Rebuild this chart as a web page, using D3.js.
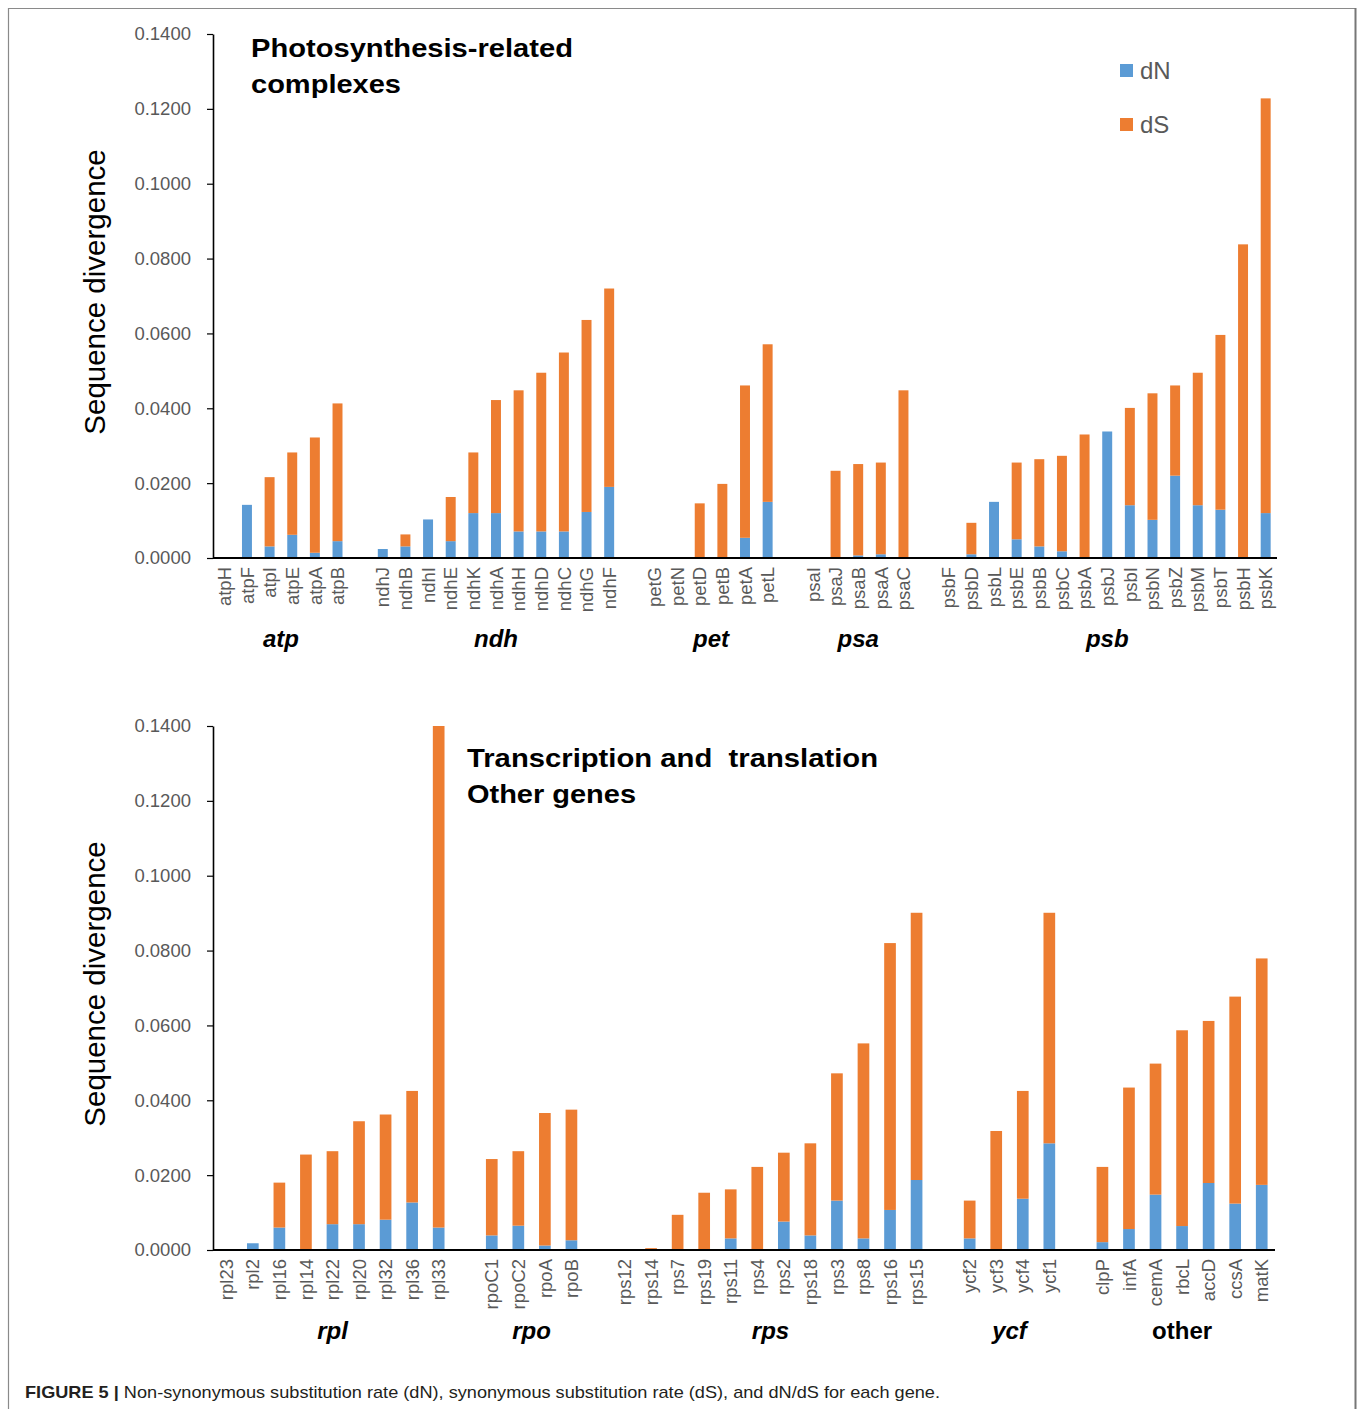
<!DOCTYPE html>
<html>
<head>
<meta charset="utf-8">
<script src="https://cdn.jsdelivr.net/npm/d3@7"></script>
<style>
  html, body { margin: 0; padding: 0; background: #fff; }
  svg { display: block; font-family: "Liberation Sans", Arial, sans-serif; }
</style>
</head>
<body>
<svg id="fig" width="1360" height="1409"></svg>
<script>
// ---- Photosynthesis-related complexes ----
const topGroupNames = ["atp", "ndh", "pet", "psa", "psb"];
const topGroupSizes = [6, 11, 6, 5, 15];
const topGenes = [
  "atpH", "atpF", "atpI", "atpE", "atpA", "atpB",
  "ndhJ", "ndhB", "ndhI", "ndhE", "ndhK", "ndhA", "ndhH", "ndhD", "ndhC", "ndhG", "ndhF",
  "petG", "petN", "petD", "petB", "petA", "petL",
  "psaI", "psaJ", "psaB", "psaA", "psaC",
  "psbF", "psbD", "psbL", "psbE", "psbB", "psbC", "psbA", "psbJ", "psbI", "psbN", "psbZ", "psbM", "psbT", "psbH", "psbK"
];
const topDN = [
  0, 0.0142, 0.0031, 0.0062, 0.0014, 0.0045,
  0.0024, 0.0031, 0.0103, 0.0045, 0.0120, 0.0120, 0.0071, 0.0071, 0.0071, 0.0123, 0.0190,
  0, 0, 0, 0, 0.0054, 0.0150,
  0, 0, 0.0007, 0.0010, 0,
  0, 0.0010, 0.0150, 0.0050, 0.0031, 0.0018, 0, 0.0338, 0.0141, 0.0102, 0.0220, 0.0141, 0.0129, 0, 0.0120
];
const topDS = [
  0, 0, 0.0185, 0.0220, 0.0308, 0.0368,
  0, 0.0032, 0, 0.0118, 0.0162, 0.0302, 0.0377, 0.0424, 0.0478, 0.0513, 0.0530,
  0, 0, 0.0146, 0.0198, 0.0407, 0.0421,
  0, 0.0233, 0.0244, 0.0245, 0.0448,
  0, 0.0084, 0, 0.0205, 0.0233, 0.0255, 0.0330, 0, 0.0260, 0.0338, 0.0241, 0.0354, 0.0467, 0.0838, 0.1108
];

// ---- Transcription and translation / other genes ----
const bottomGroupNames = ["rpl", "rpo", "rps", "ycf", "other"];
const bottomGroupSizes = [9, 4, 12, 4, 7];
const bottomGenes = [
  "rpl23", "rpl2", "rpl16", "rpl14", "rpl22", "rpl20", "rpl32", "rpl36", "rpl33",
  "rpoC1", "rpoC2", "rpoA", "rpoB",
  "rps12", "rps14", "rps7", "rps19", "rps11", "rps4", "rps2", "rps18", "rps3", "rps8", "rps16", "rps15",
  "ycf2", "ycf3", "ycf4", "ycf1",
  "clpP", "infA", "cemA", "rbcL", "accD", "ccsA", "matK"
];
const bottomDN = [
  0, 0.0018, 0.0060, 0, 0.0069, 0.0069, 0.0081, 0.0127, 0.0060,
  0.0039, 0.0065, 0.0012, 0.0026,
  0, 0, 0, 0, 0.0031, 0, 0.0076, 0.0039, 0.0132, 0.0031, 0.0107, 0.0187,
  0.0031, 0, 0.0137, 0.0285,
  0.0021, 0.0056, 0.0148, 0.0064, 0.0179, 0.0124, 0.0174
];
const bottomDS = [
  0, 0, 0.0120, 0.0255, 0.0195, 0.0275, 0.0281, 0.0298, 0.1340,
  0.0204, 0.0199, 0.0354, 0.0349,
  0, 0.0005, 0.0094, 0.0153, 0.0131, 0.0222, 0.0184, 0.0246, 0.0340, 0.0521, 0.0713, 0.0714,
  0.0101, 0.0318, 0.0288, 0.0616,
  0.0201, 0.0378, 0.0350, 0.0523, 0.0433, 0.0553, 0.0605
];

const yTicks = [0, 0.02, 0.04, 0.06, 0.08, 0.10, 0.12, 0.14];
const seriesKeys = ["dN", "dS"];
const seriesColors = ["#5B9BD5", "#ED7D31"];
const yTitle = "Sequence divergence";
const caption = "Non-synonymous substitution rate (dN), synonymous substitution rate (dS), and dN/dS for each gene.";

const svg = d3.select("#fig");
const color = d3.scaleOrdinal().domain(seriesKeys).range(seriesColors);

// figure frame (open at the bottom)
const frame = svg.append("g").attr("fill", "none");
frame.append("path").attr("d", "M8.5,1409 V8.5 H1355").attr("stroke", "#8a8a8a").attr("stroke-width", 1.2);
frame.append("line").attr("x1", 1355.5).attr("x2", 1355.5).attr("y1", 8).attr("y2", 1409)
  .attr("stroke", "#777").attr("stroke-width", 2);

function drawPanel(opt) {
  const { genes, dN, dS, groupNames, groupSizes, x0, x1, yTop, yBase } = opt;

  // category slots with one empty slot between gene groups
  const slots = [];
  const groupSlots = [];
  let gi = 0;
  groupSizes.forEach((n, g) => {
    const members = genes.slice(gi, gi + n);
    groupSlots.push(members);
    members.forEach(m => slots.push(m));
    if (g < groupSizes.length - 1) slots.push("__gap" + g);
    gi += n;
  });

  const x = d3.scaleBand().domain(slots).range([x0, x1]).paddingInner(0.56).paddingOuter(0.28);
  const y = d3.scaleLinear().domain([0, 0.14]).range([yBase, yTop]);

  const rows = genes.map((gname, i) => ({ gene: gname, dN: dN[i], dS: dS[i] }));
  const stacked = d3.stack().keys(seriesKeys)(rows);

  const g = svg.append("g");

  g.selectAll("g.series").data(stacked).join("g")
    .attr("class", "series")
    .attr("fill", d => color(d.key))
    .selectAll("rect").data(d => d.filter(p => p[1] - p[0] > 0)).join("rect")
    .attr("x", p => x(p.data.gene))
    .attr("width", x.bandwidth())
    .attr("y", p => y(p[1]))
    .attr("height", p => y(p[0]) - y(p[1]));

  // y axis
  const yAxis = g.append("g").attr("transform", `translate(${x0},0)`)
    .call(d3.axisLeft(y).tickValues(yTicks).tickFormat(d3.format(".4f")).tickSize(6).tickSizeOuter(0));
  yAxis.select(".domain").attr("stroke", "#000").attr("stroke-width", 1.6);
  yAxis.selectAll(".tick line").attr("stroke", "#000").attr("stroke-width", 1.2);
  yAxis.selectAll(".tick text")
    .attr("x", -22)
    .attr("fill", "#595959")
    .style("font-size", "18.5px")
    .style("font-family", "'Liberation Sans', Arial, sans-serif");

  // x axis: gene names, rotated
  const xAxis = g.append("g").attr("transform", `translate(0,${yBase})`)
    .call(d3.axisBottom(x).tickValues(genes).tickSize(0).tickSizeOuter(0));
  xAxis.select(".domain").remove();
  xAxis.selectAll(".tick text")
    .attr("transform", "rotate(-90)")
    .attr("x", -9)
    .attr("y", 0)
    .attr("dy", "0.36em")
    .attr("text-anchor", "end")
    .attr("fill", "#595959")
    .style("font-size", "18.5px")
    .style("font-family", "'Liberation Sans', Arial, sans-serif");

  g.append("line")
    .attr("x1", x0).attr("x2", x1).attr("y1", yBase).attr("y2", yBase)
    .attr("stroke", "#000").attr("stroke-width", 2);

  // group names under the gene labels
  groupSlots.forEach((members, k) => {
    const a = x(members[0]) - x.step() * x.paddingInner() / 2;
    const b = x(members[members.length - 1]) + x.bandwidth() + x.step() * x.paddingInner() / 2;
    const name = groupNames[k];
    g.append("text")
      .attr("x", (a + b) / 2)
      .attr("y", yBase + 89)
      .attr("text-anchor", "middle")
      .style("font-size", "24px")
      .style("font-weight", "bold")
      .style("font-style", name === "other" ? "normal" : "italic")
      .attr("fill", "#000")
      .text(name);
  });

  // y axis title
  g.append("text")
    .attr("transform", `translate(105,${(yTop + yBase) / 2 - 4}) rotate(-90)`)
    .attr("text-anchor", "middle")
    .style("font-size", "29.5px")
    .attr("fill", "#000")
    .text(yTitle);

  // panel heading
  const head = g.append("text")
    .style("font-size", "26px")
    .style("font-weight", "bold")
    .attr("fill", "#000")
    .attr("xml:space", "preserve")
    .style("white-space", "pre");
  opt.heading.forEach((line, i) => {
    head.append("tspan")
      .attr("x", opt.headX)
      .attr("y", opt.headY + i * 35.5)
      .attr("textLength", opt.headWidths[i])
      .attr("lengthAdjust", "spacingAndGlyphs")
      .text(line);
  });

  return { x, y };
}

drawPanel({
  genes: topGenes, dN: topDN, dS: topDS,
  groupNames: topGroupNames, groupSizes: topGroupSizes,
  x0: 213, x1: 1277, yTop: 34, yBase: 558,
  heading: ["Photosynthesis-related", "complexes"],
  headX: 251, headY: 57, headWidths: [322, 150]
});

drawPanel({
  genes: bottomGenes, dN: bottomDN, dS: bottomDS,
  groupNames: bottomGroupNames, groupSizes: bottomGroupSizes,
  x0: 213, x1: 1275, yTop: 726, yBase: 1250,
  heading: ["Transcription and  translation", "Other genes"],
  headX: 467, headY: 767, headWidths: [411, 169]
});

// legend
const legend = svg.append("g").attr("transform", "translate(1120,64)");
seriesKeys.forEach((k, i) => {
  const row = legend.append("g").attr("transform", `translate(0,${i * 54})`);
  row.append("rect").attr("width", 13).attr("height", 13).attr("fill", color(k));
  row.append("text").attr("x", 20).attr("y", 15)
    .style("font-size", "24px").attr("fill", "#595959").text(k);
});

// caption
const cap = svg.append("text")
  .attr("x", 25).attr("y", 1398)
  .attr("textLength", 915).attr("lengthAdjust", "spacingAndGlyphs")
  .style("font-size", "17px").attr("fill", "#231f20");
cap.append("tspan").style("font-weight", "bold").text("FIGURE 5 | ");
cap.append("tspan").text(caption);
</script>
</body>
</html>
